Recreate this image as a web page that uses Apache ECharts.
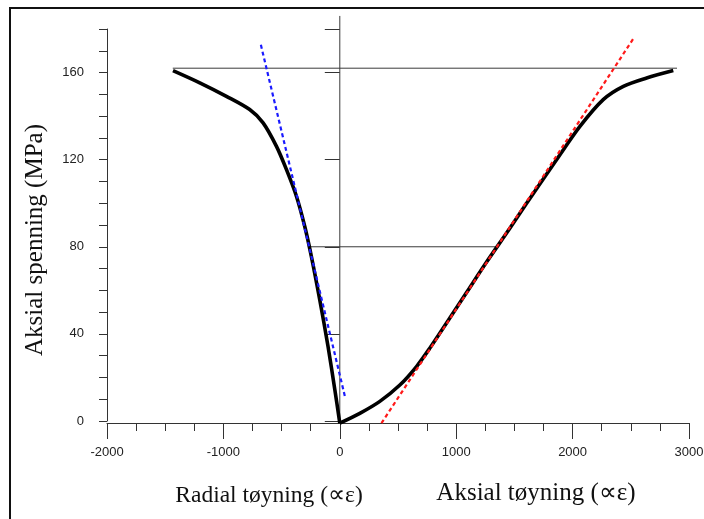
<!DOCTYPE html>
<html>
<head>
<meta charset="utf-8">
<script src="https://cdn.jsdelivr.net/npm/echarts@6/dist/echarts.min.js"></script>
<style>
  html, body { margin: 0; padding: 0; background: #fff; }
  #chart { width: 704px; height: 519px; }
</style>
</head>
<body>
<div id="chart"></div>
<script>
// Radial strain branch (µε, negative) vs axial stress (MPa)
const radialStrain = [-1433, -1203, -974, -774, -659, -544, -458, -372, -301, -244, -172, -101, -43, 0];
const radialStress = [160.9, 155.3, 149.1, 143.0, 136.9, 126.1, 115.4, 103.1, 89.3, 75.5, 55.6, 34.2, 14.5, -1.0];

// Axial strain branch (µε) vs axial stress (MPa)
const axialStrain = [0, 172, 344, 516, 659, 774, 917, 1089, 1261, 1461, 1605, 1862, 2063, 2263, 2436, 2636, 2865];
const axialStress = [-1.0, 3.5, 9.0, 16.5, 25.0, 33.5, 45.0, 59.0, 73.0, 88.5, 100.0, 120.0, 135.3, 147.6, 153.7, 157.5, 160.9];

// Tangent lines (end points: strain, stress)
const axialTangentStrain = [358, 2521];
const axialTangentStress = [-1.0, 175.5];
const radialTangentStrain = [43, -682];
const radialTangentStress = [11.5, 173.6];

// Reference lines
const peakLineStrain = [-1435, 2897];
const peakLineStress = [162, 162];
const halfLineStrain = [-258, 1350];
const halfLineStress = [80, 80];
const zeroLineStrain = [0, 0];
const zeroLineStress = [-1, 186];

// Axis ranges and ticks
const xRange = [-2000, 3000];
const xStep = 1000;
const yRange = [0, 180];
const yMinorStep = 10;
const yMajorTicks = [0, 40, 80, 120, 160, 180];
const yTickLabels = [0, 40, 80, 120, 160];

const titles = {
  y: 'Aksial spenning (MPa)',
  radial: 'Radial tøyning (∝ε)',
  axial: 'Aksial tøyning (∝ε)'
};

const zip = (xs, ys) => xs.map((x, i) => [x, ys[i]]);

const chart = echarts.init(document.getElementById('chart'));

const thinLine = (xs, ys) => ({
  type: 'line',
  data: zip(xs, ys),
  showSymbol: false,
  clip: false,
  silent: true,
  lineStyle: { color: '#3a3a3a', width: 1 },
  z: 1
});

const dashed = (xs, ys, color) => ({
  type: 'line',
  data: zip(xs, ys),
  showSymbol: false,
  clip: false,
  lineStyle: { color: color, width: 2.2, type: [4, 3] },
  z: 3
});

const curve = (xs, ys) => ({
  type: 'line',
  data: zip(xs, ys),
  showSymbol: false,
  smooth: 0.3,
  clip: false,
  lineStyle: { color: '#000', width: 3.6, cap: 'butt', join: 'round' },
  z: 2
});

const tickLabelStyle = {
  fontFamily: 'Liberation Sans, Arial, sans-serif',
  fontSize: 13,
  color: '#222'
};

chart.setOption({
  animation: false,
  backgroundColor: '#fff',
  grid: {
    left: 107, top: 29, width: 582, height: 392,
    containLabel: false,
    outerBoundsMode: 'none'
  },
  xAxis: {
    type: 'value',
    min: xRange[0],
    max: xRange[1],
    interval: xStep,
    offset: 2,
    axisLine: { show: true, onZero: false, lineStyle: { color: '#333', width: 1 } },
    axisTick: { show: true, inside: false, length: 16, lineStyle: { color: '#333' } },
    minorTick: { show: true, splitNumber: 4, length: 8, lineStyle: { color: '#333' } },
    splitLine: { show: false },
    axisLabel: Object.assign({ margin: 23, formatter: v => String(v) }, tickLabelStyle)
  },
  yAxis: [
    {
      type: 'value',
      min: yRange[0],
      max: yRange[1],
      interval: yMinorStep,
      axisLine: { show: true, onZero: false, lineStyle: { color: '#333', width: 1 } },
      axisTick: { show: true, inside: false, length: 8, lineStyle: { color: '#333' } },
      splitLine: { show: false },
      axisLabel: { show: false }
    },
    {
      type: 'value',
      position: 'left',
      min: yRange[0],
      max: yRange[1],
      axisLine: { show: false },
      axisTick: { show: true, inside: false, length: 15, customValues: yMajorTicks, lineStyle: { color: '#333' } },
      splitLine: { show: false },
      axisLabel: Object.assign({ margin: 23, customValues: yTickLabels, formatter: v => String(v) }, tickLabelStyle)
    }
  ],
  series: [
    thinLine(peakLineStrain, peakLineStress),
    thinLine(halfLineStrain, halfLineStress),
    thinLine(zeroLineStrain, zeroLineStress),
    curve(radialStrain, radialStress),
    curve(axialStrain, axialStress),
    dashed(radialTangentStrain, radialTangentStress, '#1a1aff'),
    dashed(axialTangentStrain, axialTangentStress, '#ff1a1a')
  ],
  graphic: [
    {
      type: 'rect',
      shape: { x: 10, y: 8, width: 900, height: 700 },
      style: { fill: null, stroke: '#111', lineWidth: 2 },
      silent: true,
      z: 100
    },
    {
      type: 'text',
      x: 35,
      y: 240,
      rotation: Math.PI / 2,
      style: {
        text: titles.y,
        font: '25px "Liberation Serif", "Times New Roman", serif',
        fill: '#111',
        align: 'center',
        verticalAlign: 'middle'
      }
    },
    {
      type: 'text',
      x: 269,
      y: 496,
      style: {
        text: titles.radial,
        font: '23.5px "Liberation Serif", "Times New Roman", serif',
        fill: '#111',
        align: 'center',
        verticalAlign: 'middle'
      }
    },
    {
      type: 'text',
      x: 536,
      y: 493,
      style: {
        text: titles.axial,
        font: '25px "Liberation Serif", "Times New Roman", serif',
        fill: '#111',
        align: 'center',
        verticalAlign: 'middle'
      }
    }
  ]
});
</script>
</body>
</html>
